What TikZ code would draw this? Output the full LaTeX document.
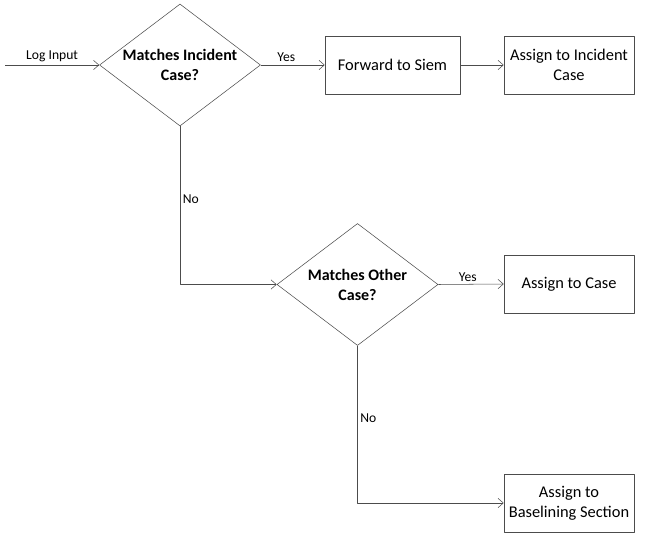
\documentclass[tikz,border=0pt]{standalone}
\usepackage{fontspec}
\setmainfont{Carlito}
\usetikzlibrary{shapes.geometric,arrows.meta}
\begin{document}
\begin{tikzpicture}[x=0.75pt, y=-0.75pt, font=\fontsize{12.3}{15}\selectfont, line join=round, >={Straight Barb[length=4pt,width=7pt]},
	decision/.style={draw=black!70, diamond, aspect=1.33, inner sep=-8pt, minimum width=120.75pt, minimum height=91.5pt, font=\bfseries\fontsize{12}{15}\selectfont, align=center},
	process/.style={draw=black!70, rectangle, minimum width=97.5pt, minimum height=43.5pt, align=center},
	tag/.style={font=\fontsize{10.2}{12}\selectfont, inner sep=2pt}]
	\useasboundingbox (0,0) rectangle (649,538);
	% decisions and boxes
	\node[decision] (incident) at (180,65) {Matches Incident\\Case?};
	\node[process, minimum width=101.25pt] (siem) at (392.5,65) {Forward to Siem};
	\node[process] (assigninc) at (569,65) {Assign to Incident\\Case};
	\node[decision] (other) at (357.5,284.5) {Matches Other\\Case?};
	\node[process] (assigncase) at (569,284) {Assign to Case};
	\node[process] (baseline) at (569,503) {Assign to\\Baselining Section};
	\coordinate (input) at (5,65);
	% connectors
	\draw[black!70, ->] (input) -- node[tag, text=black, above]{Log Input} (incident.west);
	\draw[black!70, ->] (incident.east) -- node[tag, text=black, above, pos=0.4]{Yes} (siem.west);
	\draw[black!70, ->] (siem.east) -- (assigninc.west);
	\draw[black!70, ->] (incident.south) |- node[tag, text=black, right, pos=0.23]{No} (other.west);
	\draw[black!70, ->] (other.east) -- node[tag, text=black, above, pos=0.45]{Yes} (assigncase.west);
	\draw[black!70, ->] (other.south) |- node[tag, text=black, right, pos=0.23]{No} (baseline.west);
\end{tikzpicture}
\end{document}
